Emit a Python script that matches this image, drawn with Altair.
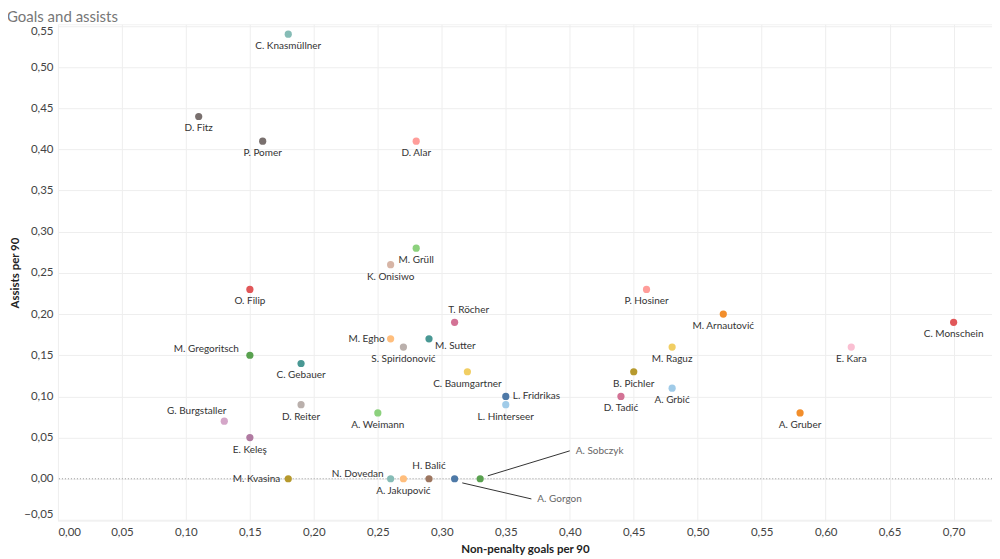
import altair as alt
import pandas as pd

players = ["C. Knasmüllner", "D. Fitz", "P. Pomer", "D. Alar", "M. Grüll", "K. Onisiwo",
           "O. Filip", "T. Röcher", "M. Egho", "M. Sutter", "S. Spiridonović", "M. Gregoritsch",
           "C. Gebauer", "C. Baumgartner", "L. Fridrikas", "L. Hinterseer", "D. Reiter",
           "A. Weimann", "G. Burgstaller", "E. Keleş", "M. Kvasina", "N. Dovedan",
           "A. Jakupović", "H. Balić", "A. Gorgon", "A. Sobczyk", "P. Hosiner",
           "M. Arnautović", "C. Monschein", "E. Kara", "M. Raguz", "B. Pichler",
           "A. Grbić", "D. Tadić", "A. Gruber"]
npg90 = [0.18, 0.11, 0.16, 0.28, 0.28, 0.26,
         0.15, 0.31, 0.26, 0.29, 0.27, 0.15,
         0.19, 0.32, 0.35, 0.35, 0.19,
         0.25, 0.13, 0.15, 0.18, 0.26,
         0.27, 0.29, 0.31, 0.33, 0.46,
         0.52, 0.70, 0.62, 0.48, 0.45,
         0.48, 0.44, 0.58]
ast90 = [0.54, 0.44, 0.41, 0.41, 0.28, 0.26,
         0.23, 0.19, 0.17, 0.17, 0.16, 0.15,
         0.14, 0.13, 0.10, 0.09, 0.09,
         0.08, 0.07, 0.05, 0.00, 0.00,
         0.00, 0.00, 0.00, 0.00, 0.23,
         0.20, 0.19, 0.16, 0.16, 0.13,
         0.11, 0.10, 0.08]
colors = ["#86BCB6", "#79706E", "#79706E", "#FF9D9A", "#8CD17D", "#D7B5A6",
          "#E15759", "#D37295", "#FFBE7D", "#499894", "#BAB0AC", "#59A14F",
          "#499894", "#F1CE63", "#4E79A7", "#A0CBE8", "#BAB0AC",
          "#8CD17D", "#D4A6C8", "#B07AA1", "#B6992D", "#86BCB6",
          "#FFBE7D", "#9D7660", "#4E79A7", "#59A14F", "#FF9D9A",
          "#F28E2B", "#E15759", "#FABFD2", "#F1CE63", "#B6992D",
          "#A0CBE8", "#D37295", "#F28E2B"]

x_ticks = [0.0, 0.05, 0.10, 0.15, 0.20, 0.25, 0.30, 0.35, 0.40, 0.45, 0.50, 0.55, 0.60, 0.65, 0.70]
y_ticks = [-0.05, 0.0, 0.05, 0.10, 0.15, 0.20, 0.25, 0.30, 0.35, 0.40, 0.45, 0.50, 0.55]

# annotated (leader-line) labels
callout_names = ["A. Gorgon", "A. Sobczyk"]
callout_x_from = [0.316, 0.336]
callout_y_from = [-0.005, 0.0036]
callout_x_to = [0.370, 0.400]
callout_y_to = [-0.0245, 0.0339]

df = pd.DataFrame({"player": players, "npg": npg90, "ast": ast90, "col": colors})
callouts = pd.DataFrame({"player": callout_names, "x1": callout_x_from, "y1": callout_y_from,
                         "x2": callout_x_to, "y2": callout_y_to})

FONT = "Lato"
xdom = [0.0, 0.73]
ydom = [-0.051, 0.552]
fmt = "replace(format(datum.value, '.2f'), '.', ',')"

xs = alt.Scale(domain=xdom, nice=False, zero=False)
ys = alt.Scale(domain=ydom, nice=False, zero=False)

base = alt.Chart(df)

points = base.mark_circle(size=52, opacity=1).encode(
    x=alt.X("npg:Q", scale=xs, title="Non-penalty goals per 90",
            axis=alt.Axis(values=x_ticks, labelExpr=fmt, labelFlush=3, grid=True,
                          gridColor="#eeeeee", domain=False, ticks=False,
                          labelFontSize=11.5, labelColor="#444", labelFont=FONT,
                          labelPadding=6, titleFont=FONT, titleFontSize=11.5,
                          titleFontWeight="bold", titleColor="#222", titleY=23)),
    y=alt.Y("ast:Q", scale=ys, title="Assists per 90",
            axis=alt.Axis(values=y_ticks, labelExpr=fmt, labelFlush=3, grid=True,
                          gridColor="#eeeeee", domain=False, ticks=False,
                          labelFontSize=11.5, labelColor="#444", labelFont=FONT,
                          labelPadding=5, titleFont=FONT, titleFontSize=11.5,
                          titleFontWeight="bold", titleColor="#222", titleX=-37)),
    color=alt.Color("col:N", scale=None),
    tooltip=["player:N", "npg:Q", "ast:Q"],
)

zero_line = alt.Chart(pd.DataFrame({"z": [0.0]})).mark_rule(
    color="#999999", strokeDash=[1, 2], strokeWidth=1
).encode(y=alt.Y("z:Q", scale=ys))

# label placement: (align, dx, dy); default is centered below the point
special = {
    "T. Röcher": ("center", 14, -12),
    "H. Balić": ("center", 0, -13),
    "M. Egho": ("right", -6, 0),
    "M. Gregoritsch": ("right", -11, -6),
    "G. Burgstaller": ("right", 2, -10),
    "M. Kvasina": ("right", -8, 0),
    "N. Dovedan": ("right", -7, -5),
    "M. Sutter": ("left", 6, 7),
    "L. Fridrikas": ("left", 7, 0),
}
default_names = [p for p in players if p not in special and p not in callout_names]

label_layers = [
    base.transform_filter(alt.FieldOneOfPredicate(field="player", oneOf=default_names))
    .mark_text(align="center", baseline="middle", dy=12, fontSize=10, font=FONT, color="#333")
    .encode(x=alt.X("npg:Q", scale=xs), y=alt.Y("ast:Q", scale=ys), text="player:N")
]
for name, (al, dx, dy) in special.items():
    label_layers.append(
        base.transform_filter(alt.datum.player == name)
        .mark_text(align=al, baseline="middle", dx=dx, dy=dy, fontSize=10, font=FONT, color="#333")
        .encode(x=alt.X("npg:Q", scale=xs), y=alt.Y("ast:Q", scale=ys), text="player:N")
    )

leader = alt.Chart(callouts).mark_rule(color="#333333", strokeWidth=1).encode(
    x=alt.X("x1:Q", scale=xs), y=alt.Y("y1:Q", scale=ys), x2="x2:Q", y2="y2:Q")
leader_text = alt.Chart(callouts).mark_text(
    align="left", baseline="middle", dx=6, fontSize=10, font=FONT, color="#666"
).encode(x=alt.X("x2:Q", scale=xs), y=alt.Y("y2:Q", scale=ys), text="player:N")

chart = alt.layer(zero_line, leader, points, *label_layers, leader_text).properties(
    width=935, height=497,
    autosize="none",
    padding={"left": 50, "top": 16, "right": 0, "bottom": 38},
    title=alt.TitleParams("Goals and assists", anchor="start", dx=-3, dy=5,
                          fontSize=15, font=FONT, fontWeight="normal", color="#777"),
).configure_view(stroke="#f2f2f2")

chart.save("out.html", embed_options={"renderer": "svg", "actions": False})
